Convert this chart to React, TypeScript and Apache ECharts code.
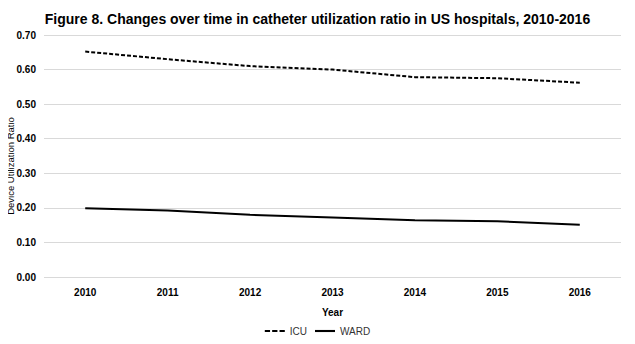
import React, { useEffect, useRef } from "react";
import * as echarts from "echarts";

const years = ["2010", "2011", "2012", "2013", "2014", "2015", "2016"];
const icu = [0.652, 0.63, 0.61, 0.6, 0.578, 0.575, 0.562];
const ward = [0.199, 0.192, 0.18, 0.172, 0.164, 0.161, 0.151];
const yAxisTitle = "Device Utilization Ratio";

export default function App() {
  const ref = useRef<HTMLDivElement>(null);
  useEffect(() => {
    const chart = echarts.init(ref.current!, null, { renderer: "svg" });
    chart.setOption({
      animation: false,
      backgroundColor: "#ffffff",
      title: {
        text: "Figure 8. Changes over time in catheter utilization ratio in US hospitals, 2010-2016",
        left: "center",
        top: 7,
        textStyle: { fontFamily: "Liberation Sans", fontWeight: "bold", fontSize: 14, color: "#000" },
      },
      grid: { left: 44, right: 14, top: 35, bottom: 67, outerBoundsMode: "none", containLabel: false },
      graphic: [
        {
          type: "text",
          x: 15,
          y: 166,
          rotation: Math.PI / 2,
          style: {
            text: yAxisTitle,
            fontFamily: "Liberation Sans",
            fontSize: 9.5,
            fill: "#000",
            align: "center",
            verticalAlign: "bottom",
          },
        },
      ],
      legend: {
        bottom: 3,
        left: "center",
        itemWidth: 20,
        itemHeight: 6,
        itemGap: 8,
        textStyle: { fontFamily: "Liberation Sans", fontSize: 10, color: "#333" },
        data: [
          { name: "ICU", icon: "path://M0,0 L5,0 L5,2 L0,2 Z M7,0 L12,0 L12,2 L7,2 Z M14,0 L19,0 L19,2 L14,2 Z" },
          { name: "WARD", icon: "path://M0,0 L19,0 L19,2 L0,2 Z" },
        ],
      },
      xAxis: {
        type: "category",
        data: years,
        name: "Year",
        nameLocation: "middle",
        nameGap: 30,
        nameTextStyle: { fontFamily: "Liberation Sans", fontWeight: "bold", fontSize: 10, color: "#000" },
        axisLine: { show: false },
        axisTick: { show: false },
        axisLabel: { fontFamily: "Liberation Sans", fontWeight: "bold", fontSize: 10, color: "#000", margin: 10 },
      },
      yAxis: {
        type: "value",
        min: 0,
        max: 0.7,
        interval: 0.1,
        axisLine: { show: false },
        axisTick: { show: false },
        splitLine: { lineStyle: { color: "#d9d9d9", width: 1 } },
        axisLabel: {
          fontFamily: "Liberation Sans",
          fontWeight: "bold",
          fontSize: 10,
          color: "#000",
          margin: 8,
          formatter: (v: number) => v.toFixed(2),
        },
      },
      series: [
        {
          name: "ICU",
          type: "line",
          data: icu,
          symbol: "none",
          lineStyle: { color: "#000", width: 2, type: [4, 2] },
          itemStyle: { color: "#000" },
        },
        {
          name: "WARD",
          type: "line",
          data: ward,
          symbol: "none",
          lineStyle: { color: "#000", width: 2 },
          itemStyle: { color: "#000" },
        },
      ],
    });
    return () => chart.dispose();
  }, []);
  return <div ref={ref} style={{ width: 635, height: 344, margin: -8 }} />;
}
